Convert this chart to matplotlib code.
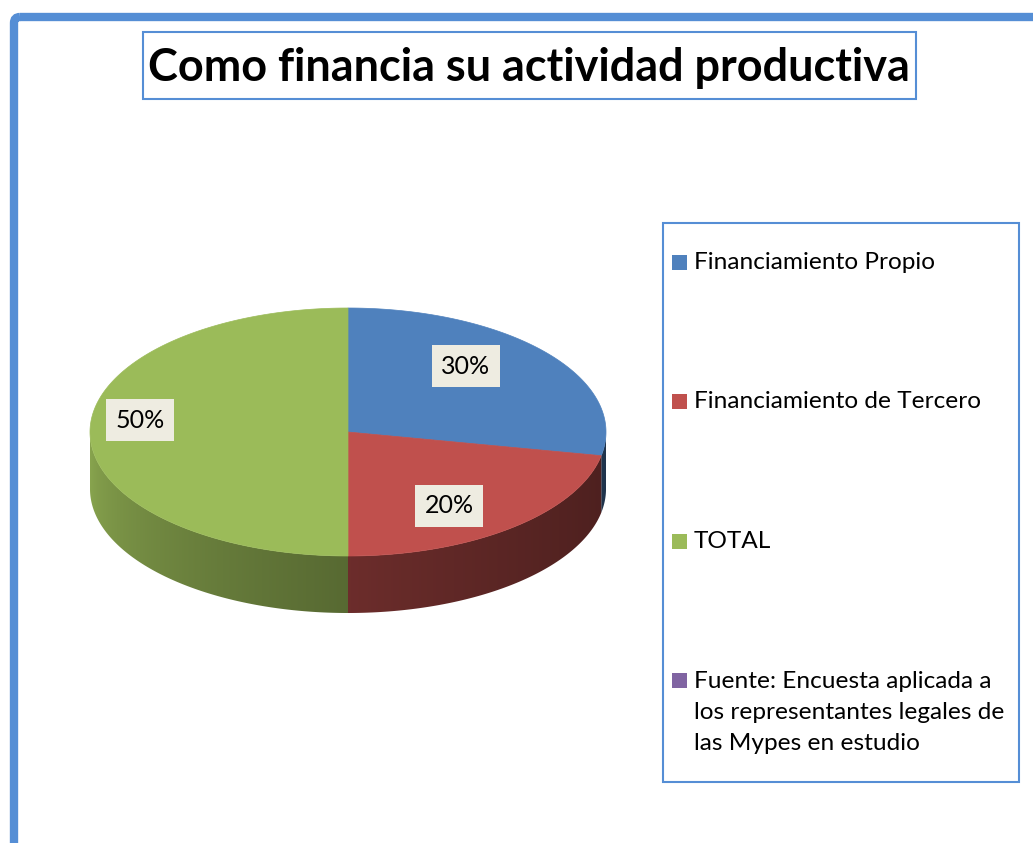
import numpy as np
import matplotlib
matplotlib.use('Agg')
from matplotlib import pyplot as plt
from matplotlib.patches import Polygon, Rectangle, FancyBboxPatch
from matplotlib.colors import to_rgb

plt.rcParams['font.family'] = ['Lato', 'DejaVu Sans']

title = 'Como financia su actividad productiva'
categories = ['Financiamiento Propio', 'Financiamiento de Tercero', 'TOTAL',
              'Fuente: Encuesta aplicada a\nlos representantes legales de\nlas Mypes en estudio']
values = [30, 20, 50, 0]
colors = ['#4F81BD', '#C0504D', '#9BBB59', '#8064A2']
pct_labels = ['30%', '20%', '50%']

# layout (pixels)
W, H = 1033, 843
cx, cy, rx, ry, depth = 348, 432, 258, 124, 57
persp = 11.9  # perspective distortion of angles (front looks bigger)
label_k = [(0.565, 0.74), (0.666, 0.857), (0.806, 0.0)]
label_dy = -12

fig = plt.figure(figsize=(W / 100, H / 100), dpi=100)
ax = fig.add_axes([0, 0, 1, 1])
ax.set_xlim(0, W)
ax.set_ylim(H, 0)
ax.axis('off')

# outer frame (cut by the picture on right and bottom)
ax.add_patch(FancyBboxPatch((14, 17), W + 40, H + 40, boxstyle='round,pad=0,rounding_size=6',
                            fc='none', ec='#558ED5', lw=6))

# title box
ax.add_patch(Rectangle((143, 32), 773, 67, fc='white', ec='#558ED5', lw=1.5))
ax.text(529, 68, title, ha='center', va='center', fontsize=32.4, fontweight='bold', color='black')


def rim(theta, dz=0):
    t = np.radians(theta)
    return cx + rx * np.cos(t), cy - ry * np.sin(t) + dz


def proj(theta):
    return theta - persp * np.sin(np.radians(2 * theta))


total = sum(values)
starts, ends = [], []
acc = 0
for v in values:
    starts.append(90 - acc / total * 360)
    acc += v
    ends.append(90 - acc / total * 360)
pstarts = [proj(a) for a in starts]
pends = [proj(a) for a in ends]

# side faces with horizontal shading (gradient clipped to each side polygon)
for i, v in enumerate(values):
    if v == 0:
        continue
    a0 = max(pends[i], -180)
    a1 = min(pstarts[i], 0)
    if a0 >= a1:
        continue
    th = np.linspace(a0, a1, 200)
    xs, ys = rim(th)
    pts = list(zip(xs, ys)) + list(zip(xs[::-1], ys[::-1] + depth))
    side = Polygon(pts, closed=True, fc='none', ec='none')
    ax.add_patch(side)
    x_lo, x_hi = xs.min(), xs.max()
    y_lo, y_hi = ys.min(), ys.max() + depth
    colx = np.linspace(x_lo, x_hi, 300)
    ang = -np.degrees(np.arccos(np.clip((colx - cx) / rx, -1, 1)))
    t = (ang + 180) / 180
    f = 0.4 + 0.5 * (1 - t) ** 1.6
    base = np.array(to_rgb(colors[i]))
    img = np.clip(f[:, None] * base[None, :], 0, 1)[None, :, :].repeat(2, axis=0)
    im = ax.imshow(img, extent=(x_lo - 1, x_hi + 1, y_hi + 1, y_lo - 1), aspect='auto',
                   interpolation='bilinear', zorder=1)
    im.set_clip_path(side)
ax.set_xlim(0, W)
ax.set_ylim(H, 0)

# top faces
for i, v in enumerate(values):
    if v == 0:
        continue
    th = np.linspace(pstarts[i], pends[i], 200)
    xs, ys = rim(th)
    pts = [(cx, cy)] + list(zip(xs, ys))
    ax.add_patch(Polygon(pts, closed=True, fc=colors[i], ec=colors[i], lw=0.5, zorder=2))

# percentage labels
for i, lab in enumerate(pct_labels):
    mid = np.radians((starts[i] + ends[i]) / 2)
    kx, ky = label_k[i]
    lx = cx + kx * rx * np.cos(mid)
    ly = cy - ky * ry * np.sin(mid) + label_dy
    ax.text(lx, ly, lab, ha='center', va='center', fontsize=18, color='black', zorder=3,
            bbox=dict(boxstyle='square,pad=0.38', fc='#EEECE1', ec='none'))

# legend
ax.add_patch(Rectangle((663, 223), 356, 559, fc='white', ec='#558ED5', lw=1.5))
for i, cat in enumerate(categories):
    yc = 262 + i * 139.5
    ax.add_patch(Rectangle((672, yc - 7.5), 15, 15, fc=colors[i], ec='none'))
    ax.text(694, yc - 10, cat, ha='left', va='top', fontsize=17.6, color='black',
            linespacing=1.6)

fig.savefig('out.png', dpi=100, facecolor='white')
